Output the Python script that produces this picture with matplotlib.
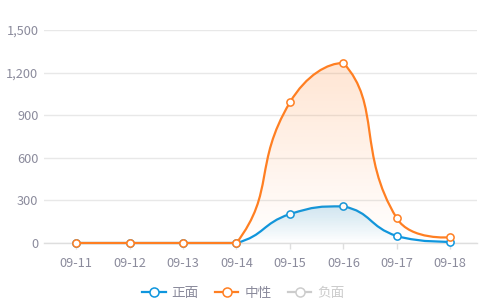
import numpy as np
import matplotlib
matplotlib.use("Agg")
import matplotlib.pyplot as plt
from matplotlib.path import Path
from matplotlib.patches import PathPatch
from matplotlib.lines import Line2D
from matplotlib.ticker import FuncFormatter, FixedLocator

plt.rcParams['font.family'] = ['Noto Sans CJK SC', 'DejaVu Sans']

# ---- data ----
dates = ['09-11', '09-12', '09-13', '09-14', '09-15', '09-16', '09-17', '09-18']
positive = [0, 0, 0, 0, 204, 258, 49, 9]
neutral = [0, 0, 0, 0, 990, 1268, 174, 40]
series_names = ['正面', '中性', '负面']
y_ticks = [0, 300, 600, 900, 1200, 1500]

BLUE = '#0e96de'
ORANGE = '#ff7f22'
GREY_OFF = '#cccccc'
LABEL = '#8b8b9c'
GRID = '#e8e8e8'

W, H = 487, 305
fig = plt.figure(figsize=(W / 100, H / 100), dpi=100)
ax = fig.add_axes([44 / W, (H - 243) / H, (477 - 44) / W, (243 - 30) / H])
ax.set_xlim(-0.6, 7.5)
ax.set_ylim(0, 1500)


def smooth_path(xs, ys, smooth=0.5):
    """Bezier path through the points, smoothed in pixel space with
    control points kept inside the points' bounding box."""
    pts = ax.transData.transform(np.column_stack([xs, ys]).astype(float))
    lo, hi = pts.min(axis=0), pts.max(axis=0)
    verts = [pts[0]]
    codes = [Path.MOVETO]
    cp0 = pts[0].copy()
    v = np.zeros(2)
    n = len(pts)
    for i in range(1, n):
        p = pts[i]
        ratio = 0.5
        if i == n - 1:
            cp1 = p.copy()
        else:
            prev, nxt = pts[i - 1], pts[i + 1]
            v = nxt - prev
            d0 = np.hypot(*(p - prev))
            d1 = np.hypot(*(nxt - p))
            ratio = d1 / (d0 + d1) if d0 + d1 > 0 else 0.5
            cp1 = p - v * smooth * (1 - ratio)
        cp0 = np.clip(cp0, lo, hi)
        cp1 = np.clip(cp1, lo, hi)
        verts += [cp0, cp1, p]
        codes += [Path.CURVE4] * 3
        cp0 = p + v * smooth * ratio
    data_verts = ax.transData.inverted().transform(np.array(verts))
    return data_verts, codes


def draw_series(values, color, z):
    xs = np.arange(len(values))
    verts, codes = smooth_path(xs, values)
    # area under the curve with a vertical fade
    area_verts = np.vstack([verts, [[xs[-1], 0], [xs[0], 0], verts[0]]])
    area_codes = codes + [Path.LINETO, Path.LINETO, Path.CLOSEPOLY]
    area = PathPatch(Path(area_verts, area_codes), facecolor='none',
                     edgecolor='none', zorder=z)
    ax.add_patch(area)
    rgb = np.array(matplotlib.colors.to_rgb(color))
    top = max(values)
    grad = np.zeros((256, 1, 4))
    grad[:, 0, :3] = rgb
    grad[:, 0, 3] = np.linspace(0.2, 0.0, 256)
    im = ax.imshow(grad, extent=[xs[0], xs[-1], 0, top], origin='upper',
                   aspect='auto', zorder=z, interpolation='bilinear')
    im.set_clip_path(area)
    line = PathPatch(Path(verts, codes), facecolor='none', edgecolor=color,
                     linewidth=1.6, zorder=z + 0.1, capstyle='round',
                     joinstyle='round')
    line.set_clip_on(False)
    ax.add_patch(line)
    ax.plot(xs, values, linestyle='none', marker='o', markersize=5.2,
            markerfacecolor='white', markeredgecolor=color,
            markeredgewidth=1.1, zorder=z + 0.2, clip_on=False)


draw_series(positive, BLUE, 3)
draw_series(neutral, ORANGE, 4)

ax.set_xlim(-0.6, 7.5)
ax.set_ylim(0, 1500)

# ---- axes styling ----
for side in ['top', 'right', 'left']:
    ax.spines[side].set_visible(False)
ax.spines['bottom'].set_color('#dedede')
ax.spines['bottom'].set_linewidth(1)

ax.xaxis.set_major_locator(FixedLocator(range(len(dates))))
ax.set_xticklabels(dates)
ax.yaxis.set_major_locator(FixedLocator(y_ticks))
ax.yaxis.set_major_formatter(FuncFormatter(lambda v, _: f'{int(v):,}'))
ax.tick_params(axis='x', length=4, width=1, color='#dedede', pad=6,
               labelsize=9.2, labelcolor=LABEL)
ax.tick_params(axis='y', length=0, pad=4, labelsize=9.2, labelcolor=LABEL)
ax.grid(axis='y', color=GRID, linewidth=1)
ax.set_axisbelow(True)

# ---- legend ----
handles = [
    Line2D([], [], color=c, linewidth=1.6, marker='o', markersize=6.5,
           markerfacecolor='white', markeredgecolor=c, markeredgewidth=1.1)
    for c in [BLUE, ORANGE, GREY_OFF]
]
leg = fig.legend(handles, series_names, loc='center', ncol=3,
                 bbox_to_anchor=(0.5, 12 / H), frameon=False,
                 fontsize=9.8, handlelength=1.7, handletextpad=0.45,
                 columnspacing=1.2)
for txt, c in zip(leg.get_texts(), [LABEL, LABEL, GREY_OFF]):
    txt.set_color(c)

fig.savefig('out.png', dpi=100)
